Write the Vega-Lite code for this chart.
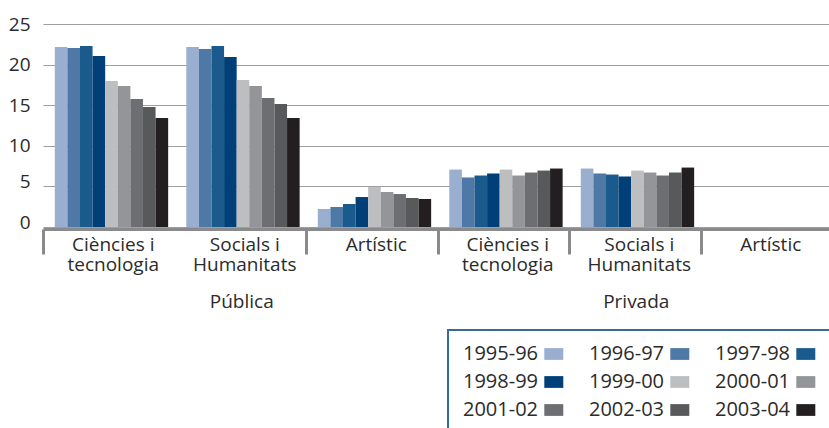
{
  "$schema": "https://vega.github.io/schema/vega-lite/v6.json",
  "width": 789,
  "height": 203,
  "autosize": {"type": "none"},
  "padding": {"left": 43, "top": 24, "right": 0, "bottom": 201},
  "background": "white",
  "config": {"view": {"stroke": null}, "font": "Open Sans", "legend": {"strokeWidth": 2}},
  "data": {
    "values": [
      {"sector": "Pública", "ambit": "Ciències i tecnologia", "grup": "Pública|Ciències i|tecnologia", "curs": "1995-96", "valor": 22.17},
      {"sector": "Pública", "ambit": "Ciències i tecnologia", "grup": "Pública|Ciències i|tecnologia", "curs": "1996-97", "valor": 22.04},
      {"sector": "Pública", "ambit": "Ciències i tecnologia", "grup": "Pública|Ciències i|tecnologia", "curs": "1997-98", "valor": 22.29},
      {"sector": "Pública", "ambit": "Ciències i tecnologia", "grup": "Pública|Ciències i|tecnologia", "curs": "1998-99", "valor": 21.06},
      {"sector": "Pública", "ambit": "Ciències i tecnologia", "grup": "Pública|Ciències i|tecnologia", "curs": "1999-00", "valor": 17.98},
      {"sector": "Pública", "ambit": "Ciències i tecnologia", "grup": "Pública|Ciències i|tecnologia", "curs": "2000-01", "valor": 17.36},
      {"sector": "Pública", "ambit": "Ciències i tecnologia", "grup": "Pública|Ciències i|tecnologia", "curs": "2001-02", "valor": 15.76},
      {"sector": "Pública", "ambit": "Ciències i tecnologia", "grup": "Pública|Ciències i|tecnologia", "curs": "2002-03", "valor": 14.78},
      {"sector": "Pública", "ambit": "Ciències i tecnologia", "grup": "Pública|Ciències i|tecnologia", "curs": "2003-04", "valor": 13.42},
      {"sector": "Pública", "ambit": "Socials i Humanitats", "grup": "Pública|Socials i|Humanitats", "curs": "1995-96", "valor": 22.17},
      {"sector": "Pública", "ambit": "Socials i Humanitats", "grup": "Pública|Socials i|Humanitats", "curs": "1996-97", "valor": 21.92},
      {"sector": "Pública", "ambit": "Socials i Humanitats", "grup": "Pública|Socials i|Humanitats", "curs": "1997-98", "valor": 22.29},
      {"sector": "Pública", "ambit": "Socials i Humanitats", "grup": "Pública|Socials i|Humanitats", "curs": "1998-99", "valor": 20.94},
      {"sector": "Pública", "ambit": "Socials i Humanitats", "grup": "Pública|Socials i|Humanitats", "curs": "1999-00", "valor": 18.10},
      {"sector": "Pública", "ambit": "Socials i Humanitats", "grup": "Pública|Socials i|Humanitats", "curs": "2000-01", "valor": 17.36},
      {"sector": "Pública", "ambit": "Socials i Humanitats", "grup": "Pública|Socials i|Humanitats", "curs": "2001-02", "valor": 15.89},
      {"sector": "Pública", "ambit": "Socials i Humanitats", "grup": "Pública|Socials i|Humanitats", "curs": "2002-03", "valor": 15.15},
      {"sector": "Pública", "ambit": "Socials i Humanitats", "grup": "Pública|Socials i|Humanitats", "curs": "2003-04", "valor": 13.42},
      {"sector": "Pública", "ambit": "Artístic", "grup": "Pública|Artístic", "curs": "1995-96", "valor": 2.22},
      {"sector": "Pública", "ambit": "Artístic", "grup": "Pública|Artístic", "curs": "1996-97", "valor": 2.46},
      {"sector": "Pública", "ambit": "Artístic", "grup": "Pública|Artístic", "curs": "1997-98", "valor": 2.83},
      {"sector": "Pública", "ambit": "Artístic", "grup": "Pública|Artístic", "curs": "1998-99", "valor": 3.69},
      {"sector": "Pública", "ambit": "Artístic", "grup": "Pública|Artístic", "curs": "1999-00", "valor": 4.93},
      {"sector": "Pública", "ambit": "Artístic", "grup": "Pública|Artístic", "curs": "2000-01", "valor": 4.31},
      {"sector": "Pública", "ambit": "Artístic", "grup": "Pública|Artístic", "curs": "2001-02", "valor": 4.06},
      {"sector": "Pública", "ambit": "Artístic", "grup": "Pública|Artístic", "curs": "2002-03", "valor": 3.57},
      {"sector": "Pública", "ambit": "Artístic", "grup": "Pública|Artístic", "curs": "2003-04", "valor": 3.45},
      {"sector": "Privada", "ambit": "Ciències i tecnologia", "grup": "Privada|Ciències i|tecnologia", "curs": "1995-96", "valor": 7.07},
      {"sector": "Privada", "ambit": "Ciències i tecnologia", "grup": "Privada|Ciències i|tecnologia", "curs": "1996-97", "valor": 6.10},
      {"sector": "Privada", "ambit": "Ciències i tecnologia", "grup": "Privada|Ciències i|tecnologia", "curs": "1997-98", "valor": 6.34},
      {"sector": "Privada", "ambit": "Ciències i tecnologia", "grup": "Privada|Ciències i|tecnologia", "curs": "1998-99", "valor": 6.59},
      {"sector": "Privada", "ambit": "Ciències i tecnologia", "grup": "Privada|Ciències i|tecnologia", "curs": "1999-00", "valor": 7.07},
      {"sector": "Privada", "ambit": "Ciències i tecnologia", "grup": "Privada|Ciències i|tecnologia", "curs": "2000-01", "valor": 6.34},
      {"sector": "Privada", "ambit": "Ciències i tecnologia", "grup": "Privada|Ciències i|tecnologia", "curs": "2001-02", "valor": 6.71},
      {"sector": "Privada", "ambit": "Ciències i tecnologia", "grup": "Privada|Ciències i|tecnologia", "curs": "2002-03", "valor": 6.95},
      {"sector": "Privada", "ambit": "Ciències i tecnologia", "grup": "Privada|Ciències i|tecnologia", "curs": "2003-04", "valor": 7.20},
      {"sector": "Privada", "ambit": "Socials i Humanitats", "grup": "Privada|Socials i|Humanitats", "curs": "1995-96", "valor": 7.20},
      {"sector": "Privada", "ambit": "Socials i Humanitats", "grup": "Privada|Socials i|Humanitats", "curs": "1996-97", "valor": 6.59},
      {"sector": "Privada", "ambit": "Socials i Humanitats", "grup": "Privada|Socials i|Humanitats", "curs": "1997-98", "valor": 6.46},
      {"sector": "Privada", "ambit": "Socials i Humanitats", "grup": "Privada|Socials i|Humanitats", "curs": "1998-99", "valor": 6.22},
      {"sector": "Privada", "ambit": "Socials i Humanitats", "grup": "Privada|Socials i|Humanitats", "curs": "1999-00", "valor": 6.95},
      {"sector": "Privada", "ambit": "Socials i Humanitats", "grup": "Privada|Socials i|Humanitats", "curs": "2000-01", "valor": 6.71},
      {"sector": "Privada", "ambit": "Socials i Humanitats", "grup": "Privada|Socials i|Humanitats", "curs": "2001-02", "valor": 6.34},
      {"sector": "Privada", "ambit": "Socials i Humanitats", "grup": "Privada|Socials i|Humanitats", "curs": "2002-03", "valor": 6.71},
      {"sector": "Privada", "ambit": "Socials i Humanitats", "grup": "Privada|Socials i|Humanitats", "curs": "2003-04", "valor": 7.32}
    ]
  },
  "layer": [
    {
      "mark": {"type": "bar"},
      "encoding": {
        "x": {
          "field": "grup",
          "type": "nominal",
          "sort": null,
          "scale": {
            "domain": ["Pública|Ciències i|tecnologia", "Pública|Socials i|Humanitats", "Pública|Artístic", "Privada|Ciències i|tecnologia", "Privada|Socials i|Humanitats", "Privada|Artístic"],
            "paddingInner": 0,
            "paddingOuter": 0
          },
          "axis": {
            "title": null,
            "orient": "bottom",
            "offset": 2,
            "grid": false,
            "domainColor": "#8a8a8c",
            "domainWidth": 3,
            "tickBand": "extent",
            "tickSize": 25,
            "tickWidth": 3,
            "tickColor": "#8a8a8c",
            "tickOpacity": {"condition": {"test": "datum.value === 'Pública|Ciències i|tecnologia'", "value": 0}, "value": 1},
            "labelExpr": "slice(split(datum.label, '|'), 1)",
            "labelAngle": 0,
            "labelBaseline": "top",
            "labelFontSize": 19,
            "labelColor": "#2b2b2b",
            "labelLineHeight": 20.5,
            "labelPadding": -19,
            "labelOffset": 4
          }
        },
        "xOffset": {
          "field": "curs",
          "type": "nominal",
          "scale": {"paddingInner": 0, "paddingOuter": 0.72, "align": 0.65}
        },
        "y": {
          "field": "valor",
          "type": "quantitative",
          "scale": {"domain": [0, 25]},
          "axis": {
            "title": null,
            "values": [0, 5, 10, 15, 20, 25],
            "domain": false,
            "ticks": false,
            "gridColor": "#9d9fa2",
            "gridWidth": 1.2,
            "labelFontSize": 19,
            "labelColor": "#2b2b2b",
            "labelPadding": 13,
            "labelOffset": {"condition": {"test": "datum.value <= 5", "value": -5}, "value": 0}
          }
        },
        "color": {
          "field": "curs",
          "type": "nominal",
          "scale": {
            "domain": ["1995-96", "1996-97", "1997-98", "1998-99", "1999-00", "2000-01", "2001-02", "2002-03", "2003-04"],
            "range": ["#9aafcf", "#4e78a5", "#1b5a8c", "#003f77", "#bcbec0", "#939598", "#6d6e71", "#58595b", "#231f20"]
          },
          "legend": {
            "title": null,
            "orient": "none",
            "legendX": 405,
            "legendY": 306,
            "columns": 3,
            "direction": "horizontal",
            "symbolType": "M-1,-0.62H1V0.62H-1Z",
            "symbolSize": 361,
            "symbolStrokeWidth": 0,
            "symbolOpacity": 1,
            "symbolOffset": 81.8,
            "labelAlign": "left",
            "labelOffset": -100.8,
            "labelFontSize": 20,
            "labelColor": "#2b2b2b",
            "strokeColor": "#3a6a9a",
            "padding": 14,
            "rowPadding": 8,
            "columnPadding": 24
          }
        }
      }
    },
    {
      "mark": {"type": "rule", "opacity": 0},
      "encoding": {
        "x": {
          "field": "sector",
          "type": "nominal",
          "sort": null,
          "scale": {"domain": ["Pública", "Privada"], "paddingInner": 0, "paddingOuter": 0},
          "axis": {
            "title": null,
            "orient": "bottom",
            "offset": 2,
            "grid": false,
            "domain": false,
            "tickBand": "extent",
            "tickSize": 65,
            "tickWidth": 3,
            "tickColor": "#8a8a8c",
            "tickOpacity": {"condition": {"test": "datum.value === 'Privada'", "value": 1}, "value": 0},
            "labelAngle": 0,
            "labelBaseline": "top",
            "labelFontSize": 19,
            "labelColor": "#2b2b2b",
            "labelPadding": -2,
            "labelOffset": 1
          }
        }
      }
    }
  ],
  "resolve": {"scale": {"x": "independent"}}
}
